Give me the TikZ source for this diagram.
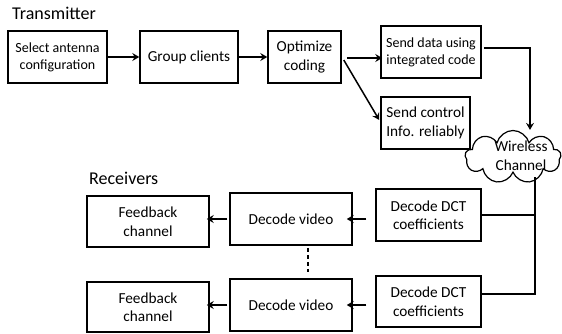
\documentclass[tikz,border=0pt]{standalone}
\usepackage{fontspec}
\setmainfont{Carlito}
\usetikzlibrary{shapes.symbols,arrows.meta,calc}
\begin{document}
\begin{tikzpicture}[x=1pt,y=-1pt,
  box/.style={draw, line width=1.5pt, align=center, inner sep=0pt,
    font=\fontsize{15.3}{18.5}\selectfont},
  smallbox/.style={box, font=\fontsize{14}{17}\selectfont},
  title/.style={anchor=base west, inner sep=0pt, font=\fontsize{18}{20}\selectfont},
  conn/.style={line width=1.5pt},
  arr/.style={conn, -{Stealth[length=7pt,width=8pt,inset=2.5pt]}},
  cloudshape/.style={cloud, cloud puffs=9, cloud ignores aspect, draw, line width=1.2pt,
    minimum width=96pt, minimum height=53pt, inner sep=0pt}]
\useasboundingbox (0,0) rectangle (562,333);

\node[title] (tx) at (12,19) {Transmitter};
\node[title] (rx) at (89,184) {Receivers};

\node[smallbox, minimum width=99pt, minimum height=52pt] (b1) at (57.5,57) {Select antenna\\configuration};
\node[box, minimum width=98pt, minimum height=52pt] (b2) at (189,57) {Group clients};
\node[box, minimum width=73pt, minimum height=52pt] (b3) at (304.5,57) {Optimize\\coding};
\node[smallbox, minimum width=100pt, minimum height=52pt] (b4) at (431,52) {Send data using\\integrated code};
\node[box, minimum width=89pt, minimum height=52pt] (b5) at (425.5,123) {Send control\\Info. reliably};

\node[cloudshape] (cl) at (513,157) {};
\node[inner sep=0pt, align=center, font=\fontsize{15.3}{19}\selectfont] (cltxt) at (521,156) {Wireless\\Channel};

\node[box, minimum width=122pt, minimum height=51pt] (f1) at (148,221.5) {Feedback\\channel};
\node[box, minimum width=122pt, minimum height=52pt] (v1) at (291,219) {Decode video};
\node[box, minimum width=105pt, minimum height=52pt] (d1) at (428.5,215) {Decode DCT\\coefficients};

\node[box, minimum width=122pt, minimum height=50pt] (f2) at (148,307) {Feedback\\channel};
\node[box, minimum width=122pt, minimum height=52pt] (v2) at (291,305) {Decode video};
\node[box, minimum width=105pt, minimum height=51pt] (d2) at (428.5,301.5) {Decode DCT\\coefficients};

% transmitter chain
\draw[arr] (b1.east) -- (b2.west);
\draw[arr] (b2.east) -- (b3.west);
\draw[arr] ($(b3.east)+(5,1)$) -- ($(b4.west)+(2,6)$);
\draw[arr] ($(b3.east)+(2,3)$) -- ($(b5.west)+(-1,-3)$);
\coordinate (cin) at ($(cl.north)+(17,0)$);
\draw[arr] ($(b4.east)+(2,-4)$) -| (cin);

% channel to decoders
\coordinate (j1) at (535,215);
\coordinate (j2) at (535,294);
\draw[conn] ($(cl.center)+(22,20)$) -- (j1) -- (j2) -- (d2.east |- j2);
\draw[conn] (j1) -- (d1.east);

% decoders to video
\draw[arr] ($(d1.west |- v1.east)+(-9,0)$) -- ($(v1.east)+(-6,0)$);
\draw[arr] ($(d2.west |- v2.east)+(-9,0)$) -- ($(v2.east)+(-6,0)$);

% video to feedback
\draw[arr] ($(v1.west)+(-2,0)$) -- ($(f1.east |- v1.west)+(-3,0)$);
\draw[arr] ($(v2.west)+(-2,0)$) -- ($(f2.east |- v2.west)+(-3,0)$);

% dashed link
\draw[conn, line width=1.2pt, dash pattern=on 4pt off 3pt] ($(v1.south)+(17,2)$) -- ($(v2.north)+(17,-6)$);
\end{tikzpicture}
\end{document}
